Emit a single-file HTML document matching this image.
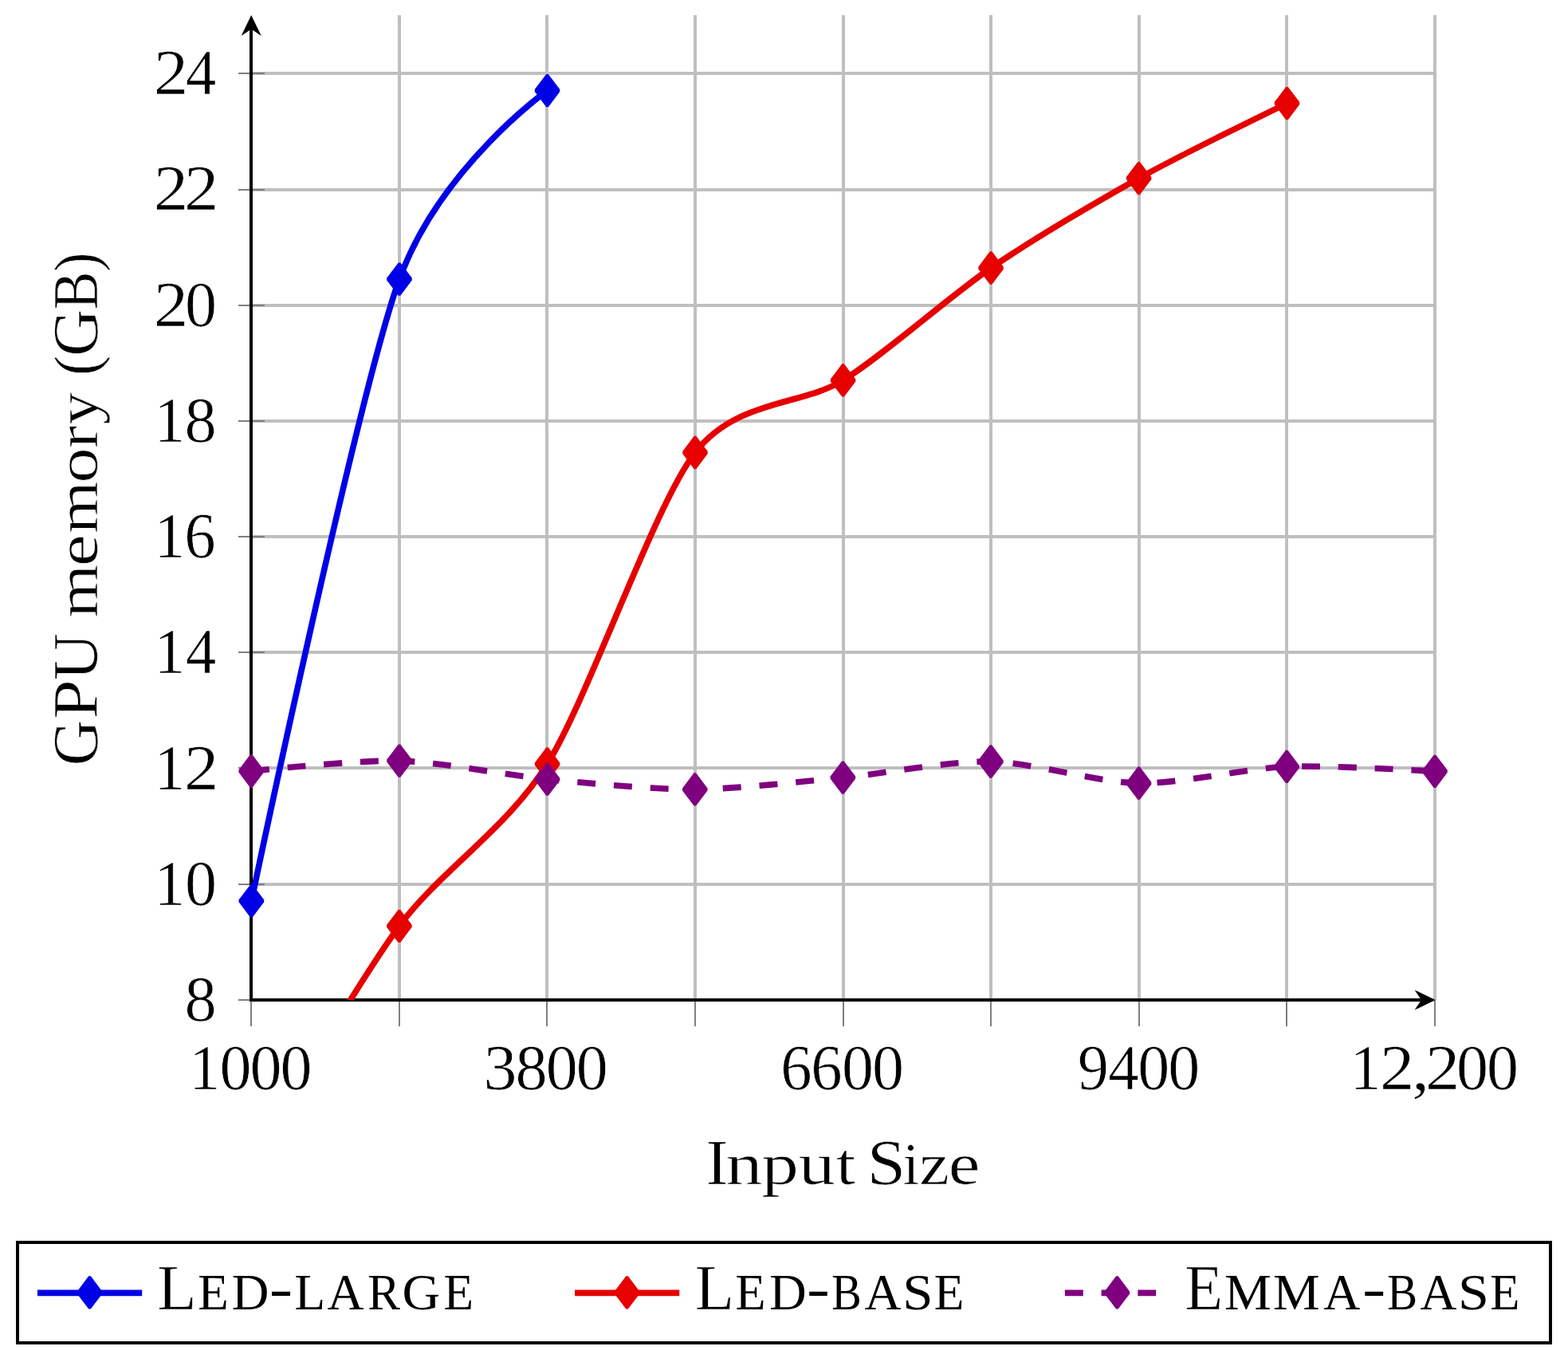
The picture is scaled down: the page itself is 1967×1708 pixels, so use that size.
<!DOCTYPE html>
<html lang="en">
<head>
<meta charset="utf-8">
<title>GPU memory vs. input size</title>
<style>
html,body{margin:0;padding:0;background:#fff;}
body{width:1967px;height:1708px;overflow:hidden;}
svg{display:block;}
text{font-family:"Liberation Serif", "DejaVu Serif", serif;fill:#000;stroke:#fff;stroke-width:0.7px;}
</style>
</head>
<body>
<svg width="1967" height="1708" viewBox="0 0 1967 1708">
<title>GPU memory (GB) as a function of Input Size</title>
<desc>Line chart. x axis: Input Size (1000, 3800, 6600, 9400, 12,200). y axis: GPU memory (GB) (8 to 24). Series: LED-LARGE, LED-BASE, EMMA-BASE.</desc>
<rect width="1967" height="1708" fill="#fff"/>
<g stroke="#bfbfbf" stroke-width="4" fill="none" shape-rendering="crispEdges">
<line x1="501.00" y1="19.00" x2="501.00" y2="1254.00"/>
<line x1="686.00" y1="19.00" x2="686.00" y2="1254.00"/>
<line x1="872.00" y1="19.00" x2="872.00" y2="1254.00"/>
<line x1="1058.00" y1="19.00" x2="1058.00" y2="1254.00"/>
<line x1="1243.00" y1="19.00" x2="1243.00" y2="1254.00"/>
<line x1="1429.00" y1="19.00" x2="1429.00" y2="1254.00"/>
<line x1="1614.00" y1="19.00" x2="1614.00" y2="1254.00"/>
<line x1="1800.00" y1="19.00" x2="1800.00" y2="1254.00"/>
<line x1="315.00" y1="1254.00" x2="1800.00" y2="1254.00"/>
<line x1="315.00" y1="1109.00" x2="1800.00" y2="1109.00"/>
<line x1="315.00" y1="963.00" x2="1800.00" y2="963.00"/>
<line x1="315.00" y1="818.00" x2="1800.00" y2="818.00"/>
<line x1="315.00" y1="673.00" x2="1800.00" y2="673.00"/>
<line x1="315.00" y1="528.00" x2="1800.00" y2="528.00"/>
<line x1="315.00" y1="383.00" x2="1800.00" y2="383.00"/>
<line x1="315.00" y1="238.00" x2="1800.00" y2="238.00"/>
<line x1="315.00" y1="92.00" x2="1800.00" y2="92.00"/>
</g>
<g stroke="#7f7f7f" stroke-width="2" fill="none" shape-rendering="crispEdges">
<line x1="315.00" y1="1254.00" x2="315.00" y2="1287.00"/>
<line x1="501.00" y1="1254.00" x2="501.00" y2="1287.00"/>
<line x1="686.00" y1="1254.00" x2="686.00" y2="1287.00"/>
<line x1="872.00" y1="1254.00" x2="872.00" y2="1287.00"/>
<line x1="1058.00" y1="1254.00" x2="1058.00" y2="1287.00"/>
<line x1="1243.00" y1="1254.00" x2="1243.00" y2="1287.00"/>
<line x1="1429.00" y1="1254.00" x2="1429.00" y2="1287.00"/>
<line x1="1614.00" y1="1254.00" x2="1614.00" y2="1287.00"/>
<line x1="1800.00" y1="1254.00" x2="1800.00" y2="1287.00"/>
<line x1="299.00" y1="1254.00" x2="332.00" y2="1254.00"/>
<line x1="299.00" y1="1109.00" x2="332.00" y2="1109.00"/>
<line x1="299.00" y1="963.00" x2="332.00" y2="963.00"/>
<line x1="299.00" y1="818.00" x2="332.00" y2="818.00"/>
<line x1="299.00" y1="673.00" x2="332.00" y2="673.00"/>
<line x1="299.00" y1="528.00" x2="332.00" y2="528.00"/>
<line x1="299.00" y1="383.00" x2="332.00" y2="383.00"/>
<line x1="299.00" y1="238.00" x2="332.00" y2="238.00"/>
<line x1="299.00" y1="92.00" x2="332.00" y2="92.00"/>
</g>
<g stroke="#000" stroke-width="4" fill="none" shape-rendering="crispEdges">
<line x1="315.00" y1="1256.00" x2="315.00" y2="33.00"/>
<line x1="313.00" y1="1254.00" x2="1786.00" y2="1254.00"/>
</g>
<polygon fill="#000" points="315.20,18.90 327.80,44.90 315.20,36.50 302.60,44.90"/>
<polygon fill="#000" points="1800.60,1254.00 1774.60,1241.40 1783.00,1254.00 1774.60,1266.60"/>
<defs><clipPath id="plotclip"><rect x="315.00" y="19.00" width="1485.00" height="1235.00"/></clipPath></defs>
<g clip-path="url(#plotclip)" fill="none" stroke-width="7.60" stroke-linejoin="round">
<path stroke="#0000e6" d="M315.40 1129.85 C315.40 1129.85 449.50 491.11 501.00 350.10 C552.50 209.09 686.55 113.55 686.55 113.55"/>
</g>
<polygon fill="#0000e6" points="314.10,1109.20 316.70,1109.20 331.15,1128.35 331.15,1131.35 316.70,1150.50 314.10,1150.50 299.65,1131.35 299.65,1128.35"/>
<polygon fill="#0000e6" points="499.70,329.45 502.30,329.45 516.75,348.60 516.75,351.60 502.30,370.75 499.70,370.75 485.25,351.60 485.25,348.60"/>
<polygon fill="#0000e6" points="685.25,92.90 687.85,92.90 702.30,112.05 702.30,115.05 687.85,134.20 685.25,134.20 670.80,115.05 670.80,112.05"/>
<g clip-path="url(#plotclip)" fill="none" stroke-width="7.60" stroke-linejoin="round">
<path stroke="#e60000" d="M315.20 1460.00 C315.20 1460.00 449.37 1230.95 500.90 1161.30 C552.43 1091.65 635.11 1040.39 686.60 958.00 C738.09 875.61 820.52 634.25 872.00 567.50 C923.48 500.75 1006.11 509.02 1057.60 476.90 C1109.09 444.78 1191.62 371.15 1243.10 336.00 C1294.58 300.85 1377.07 252.24 1428.60 223.60 C1480.13 194.96 1614.50 129.55 1614.50 129.55"/>
</g>
<polygon fill="#e60000" points="499.60,1140.65 502.20,1140.65 516.65,1159.80 516.65,1162.80 502.20,1181.95 499.60,1181.95 485.15,1162.80 485.15,1159.80"/>
<polygon fill="#e60000" points="685.30,937.35 687.90,937.35 702.35,956.50 702.35,959.50 687.90,978.65 685.30,978.65 670.85,959.50 670.85,956.50"/>
<polygon fill="#e60000" points="870.70,546.85 873.30,546.85 887.75,566.00 887.75,569.00 873.30,588.15 870.70,588.15 856.25,569.00 856.25,566.00"/>
<polygon fill="#e60000" points="1056.30,456.25 1058.90,456.25 1073.35,475.40 1073.35,478.40 1058.90,497.55 1056.30,497.55 1041.85,478.40 1041.85,475.40"/>
<polygon fill="#e60000" points="1241.80,315.35 1244.40,315.35 1258.85,334.50 1258.85,337.50 1244.40,356.65 1241.80,356.65 1227.35,337.50 1227.35,334.50"/>
<polygon fill="#e60000" points="1427.30,202.95 1429.90,202.95 1444.35,222.10 1444.35,225.10 1429.90,244.25 1427.30,244.25 1412.85,225.10 1412.85,222.10"/>
<polygon fill="#e60000" points="1613.20,108.90 1615.80,108.90 1630.25,128.05 1630.25,131.05 1615.80,150.20 1613.20,150.20 1598.75,131.05 1598.75,128.05"/>
<g clip-path="url(#plotclip)" fill="none" stroke-width="7.60" stroke-linejoin="round">
<path stroke="#7f007f" stroke-dasharray="22.86 22.86" d="M315.20 967.00 C315.20 967.00 449.47 952.68 501.00 954.10 C552.53 955.52 635.15 972.23 686.60 977.20 C738.05 982.17 820.35 990.19 871.80 989.90 C923.25 989.61 1005.91 979.94 1057.40 975.10 C1108.89 970.26 1191.40 954.01 1242.90 955.00 C1294.40 955.99 1377.08 981.31 1428.60 982.20 C1480.12 983.09 1562.67 963.47 1614.20 961.40 C1665.73 959.33 1800.00 967.30 1800.00 967.30"/>
</g>
<polygon fill="#7f007f" points="313.90,946.35 316.50,946.35 330.95,965.50 330.95,968.50 316.50,987.65 313.90,987.65 299.45,968.50 299.45,965.50"/>
<polygon fill="#7f007f" points="499.70,933.45 502.30,933.45 516.75,952.60 516.75,955.60 502.30,974.75 499.70,974.75 485.25,955.60 485.25,952.60"/>
<polygon fill="#7f007f" points="685.30,956.55 687.90,956.55 702.35,975.70 702.35,978.70 687.90,997.85 685.30,997.85 670.85,978.70 670.85,975.70"/>
<polygon fill="#7f007f" points="870.50,969.25 873.10,969.25 887.55,988.40 887.55,991.40 873.10,1010.55 870.50,1010.55 856.05,991.40 856.05,988.40"/>
<polygon fill="#7f007f" points="1056.10,954.45 1058.70,954.45 1073.15,973.60 1073.15,976.60 1058.70,995.75 1056.10,995.75 1041.65,976.60 1041.65,973.60"/>
<polygon fill="#7f007f" points="1241.60,934.35 1244.20,934.35 1258.65,953.50 1258.65,956.50 1244.20,975.65 1241.60,975.65 1227.15,956.50 1227.15,953.50"/>
<polygon fill="#7f007f" points="1427.30,961.55 1429.90,961.55 1444.35,980.70 1444.35,983.70 1429.90,1002.85 1427.30,1002.85 1412.85,983.70 1412.85,980.70"/>
<polygon fill="#7f007f" points="1612.90,940.75 1615.50,940.75 1629.95,959.90 1629.95,962.90 1615.50,982.05 1612.90,982.05 1598.45,962.90 1598.45,959.90"/>
<polygon fill="#7f007f" points="1798.70,946.65 1801.30,946.65 1815.75,965.80 1815.75,968.80 1801.30,987.95 1798.70,987.95 1784.25,968.80 1784.25,965.80"/>
<text aria-label="8"><tspan x="231.55" y="1280.20" font-size="81.11" textLength="40.17" lengthAdjust="spacingAndGlyphs">8</tspan></text>
<text aria-label="10"><tspan x="193.60" y="1134.95" font-size="81.11" textLength="38.77" lengthAdjust="spacingAndGlyphs">1</tspan><tspan x="231.91" y="1134.95" font-size="81.11" textLength="39.99" lengthAdjust="spacingAndGlyphs">0</tspan></text>
<text aria-label="12"><tspan x="193.60" y="989.70" font-size="81.11" textLength="38.77" lengthAdjust="spacingAndGlyphs">1</tspan><tspan x="230.90" y="989.70" font-size="81.11" textLength="43.40" lengthAdjust="spacingAndGlyphs">2</tspan></text>
<text aria-label="14"><tspan x="193.60" y="844.45" font-size="81.11" textLength="38.77" lengthAdjust="spacingAndGlyphs">1</tspan><tspan x="232.86" y="844.45" font-size="81.11" textLength="38.51" lengthAdjust="spacingAndGlyphs">4</tspan></text>
<text aria-label="16"><tspan x="193.60" y="699.20" font-size="81.11" textLength="38.77" lengthAdjust="spacingAndGlyphs">1</tspan><tspan x="231.23" y="699.20" font-size="81.11" textLength="39.32" lengthAdjust="spacingAndGlyphs">6</tspan></text>
<text aria-label="18"><tspan x="193.60" y="553.95" font-size="81.11" textLength="38.77" lengthAdjust="spacingAndGlyphs">1</tspan><tspan x="231.55" y="553.95" font-size="81.11" textLength="40.17" lengthAdjust="spacingAndGlyphs">8</tspan></text>
<text aria-label="20"><tspan x="192.86" y="408.70" font-size="81.11" textLength="43.40" lengthAdjust="spacingAndGlyphs">2</tspan><tspan x="231.91" y="408.70" font-size="81.11" textLength="39.99" lengthAdjust="spacingAndGlyphs">0</tspan></text>
<text aria-label="22"><tspan x="192.86" y="263.45" font-size="81.11" textLength="43.40" lengthAdjust="spacingAndGlyphs">2</tspan><tspan x="230.90" y="263.45" font-size="81.11" textLength="43.40" lengthAdjust="spacingAndGlyphs">2</tspan></text>
<text aria-label="24"><tspan x="192.86" y="118.20" font-size="81.11" textLength="43.40" lengthAdjust="spacingAndGlyphs">2</tspan><tspan x="232.86" y="118.20" font-size="81.11" textLength="38.51" lengthAdjust="spacingAndGlyphs">4</tspan></text>
<text aria-label="1000"><tspan x="237.20" y="1365.90" font-size="81.11" textLength="38.77" lengthAdjust="spacingAndGlyphs">1</tspan><tspan x="275.51" y="1365.90" font-size="81.11" textLength="39.99" lengthAdjust="spacingAndGlyphs">0</tspan><tspan x="313.55" y="1365.90" font-size="81.11" textLength="39.99" lengthAdjust="spacingAndGlyphs">0</tspan><tspan x="351.59" y="1365.90" font-size="81.11" textLength="39.99" lengthAdjust="spacingAndGlyphs">0</tspan></text>
<text aria-label="3800"><tspan x="606.64" y="1365.90" font-size="81.11" textLength="42.00" lengthAdjust="spacingAndGlyphs">3</tspan><tspan x="646.39" y="1365.90" font-size="81.11" textLength="40.17" lengthAdjust="spacingAndGlyphs">8</tspan><tspan x="684.79" y="1365.90" font-size="81.11" textLength="39.99" lengthAdjust="spacingAndGlyphs">0</tspan><tspan x="722.83" y="1365.90" font-size="81.11" textLength="39.99" lengthAdjust="spacingAndGlyphs">0</tspan></text>
<text aria-label="6600"><tspan x="979.27" y="1365.90" font-size="81.11" textLength="39.32" lengthAdjust="spacingAndGlyphs">6</tspan><tspan x="1017.31" y="1365.90" font-size="81.11" textLength="39.32" lengthAdjust="spacingAndGlyphs">6</tspan><tspan x="1056.03" y="1365.90" font-size="81.11" textLength="39.99" lengthAdjust="spacingAndGlyphs">0</tspan><tspan x="1094.07" y="1365.90" font-size="81.11" textLength="39.99" lengthAdjust="spacingAndGlyphs">0</tspan></text>
<text aria-label="9400"><tspan x="1351.94" y="1365.90" font-size="81.11" textLength="38.78" lengthAdjust="spacingAndGlyphs">9</tspan><tspan x="1390.18" y="1365.90" font-size="81.11" textLength="38.51" lengthAdjust="spacingAndGlyphs">4</tspan><tspan x="1427.27" y="1365.90" font-size="81.11" textLength="39.99" lengthAdjust="spacingAndGlyphs">0</tspan><tspan x="1465.31" y="1365.90" font-size="81.11" textLength="39.99" lengthAdjust="spacingAndGlyphs">0</tspan></text>
<text aria-label="12,200"><tspan x="1693.63" y="1365.90" font-size="81.11" textLength="38.77" lengthAdjust="spacingAndGlyphs">1</tspan><tspan x="1730.93" y="1365.90" font-size="81.11" textLength="43.40" lengthAdjust="spacingAndGlyphs">2</tspan><tspan x="1771.05" y="1365.90" font-size="81.11" textLength="22.16" lengthAdjust="spacingAndGlyphs">,</tspan><tspan x="1787.99" y="1365.90" font-size="81.11" textLength="43.40" lengthAdjust="spacingAndGlyphs">2</tspan><tspan x="1827.04" y="1365.90" font-size="81.11" textLength="39.99" lengthAdjust="spacingAndGlyphs">0</tspan><tspan x="1865.08" y="1365.90" font-size="81.11" textLength="39.99" lengthAdjust="spacingAndGlyphs">0</tspan></text>
<text aria-label="Input Size"><tspan x="885.77" y="1484.50" font-size="80.71" textLength="27.51" lengthAdjust="spacingAndGlyphs">I</tspan><tspan x="910.64" y="1484.50" font-size="74.31" textLength="46.06" lengthAdjust="spacingAndGlyphs">n</tspan><tspan x="955.19" y="1484.50" font-size="74.31" textLength="46.76" lengthAdjust="spacingAndGlyphs">p</tspan><tspan x="1001.89" y="1484.50" font-size="74.31" textLength="45.98" lengthAdjust="spacingAndGlyphs">u</tspan><tspan x="1048.84" y="1484.50" font-size="74.31" textLength="24.48" lengthAdjust="spacingAndGlyphs">t</tspan><tspan> </tspan><tspan x="1087.78" y="1484.50" font-size="80.71" textLength="48.42" lengthAdjust="spacingAndGlyphs">S</tspan><tspan x="1132.62" y="1484.50" font-size="74.31" textLength="20.91" lengthAdjust="spacingAndGlyphs">i</tspan><tspan x="1153.32" y="1484.50" font-size="74.31" textLength="37.75" lengthAdjust="spacingAndGlyphs">z</tspan><tspan x="1189.71" y="1484.50" font-size="74.31" textLength="39.69" lengthAdjust="spacingAndGlyphs">e</tspan></text>
<text aria-label="GPU memory (GB)" transform="translate(121.7 958.40) rotate(-90)"><tspan x="-1.84" y="0.00" font-size="80.71" textLength="57.12" lengthAdjust="spacingAndGlyphs">G</tspan><tspan x="56.63" y="0.00" font-size="80.71" textLength="49.53" lengthAdjust="spacingAndGlyphs">P</tspan><tspan x="105.29" y="0.00" font-size="80.71" textLength="58.82" lengthAdjust="spacingAndGlyphs">U</tspan><tspan> </tspan><tspan x="183.59" y="0.00" font-size="74.31" textLength="67.06" lengthAdjust="spacingAndGlyphs">m</tspan><tspan x="248.17" y="0.00" font-size="74.31" textLength="40.05" lengthAdjust="spacingAndGlyphs">e</tspan><tspan x="289.53" y="0.00" font-size="74.31" textLength="65.48" lengthAdjust="spacingAndGlyphs">m</tspan><tspan x="352.72" y="0.00" font-size="74.31" textLength="44.36" lengthAdjust="spacingAndGlyphs">o</tspan><tspan x="396.10" y="0.00" font-size="74.31" textLength="28.35" lengthAdjust="spacingAndGlyphs">r</tspan><tspan x="426.00" y="0.00" font-size="74.31" textLength="40.82" lengthAdjust="spacingAndGlyphs">y</tspan><tspan> </tspan><tspan x="487.46" y="0.00" font-size="78.91" textLength="25.28" lengthAdjust="spacingAndGlyphs">(</tspan><tspan x="511.34" y="0.00" font-size="80.71" textLength="59.23" lengthAdjust="spacingAndGlyphs">G</tspan><tspan x="570.23" y="0.00" font-size="80.71" textLength="47.87" lengthAdjust="spacingAndGlyphs">B</tspan><tspan x="617.75" y="0.00" font-size="78.91" textLength="24.25" lengthAdjust="spacingAndGlyphs">)</tspan></text>
<rect x="22" y="1558" width="1923" height="126" fill="#fff" stroke="#000" stroke-width="4" shape-rendering="crispEdges"/>
<line x1="47.00" y1="1621.40" x2="178.20" y2="1621.40" stroke="#0000e6" stroke-width="7.60"/>
<polygon fill="#0000e6" points="111.20,1600.25 113.80,1600.25 128.25,1619.40 128.25,1622.40 113.80,1641.55 111.20,1641.55 96.75,1622.40 96.75,1619.40"/>
<line x1="721.10" y1="1621.40" x2="852.30" y2="1621.40" stroke="#e60000" stroke-width="7.60"/>
<polygon fill="#e60000" points="785.30,1600.25 787.90,1600.25 802.35,1619.40 802.35,1622.40 787.90,1641.55 785.30,1641.55 770.85,1622.40 770.85,1619.40"/>
<line x1="1335.90" y1="1621.40" x2="1467.10" y2="1621.40" stroke="#7f007f" stroke-width="7.60" stroke-dasharray="22.86 22.86"/>
<polygon fill="#7f007f" points="1400.10,1600.25 1402.70,1600.25 1417.15,1619.40 1417.15,1622.40 1402.70,1641.55 1400.10,1641.55 1385.65,1622.40 1385.65,1619.40"/>
<text aria-label="LED-LARGE"><tspan x="197.37" y="1642.00" font-size="80.91" textLength="49.38" lengthAdjust="spacingAndGlyphs">L</tspan><tspan x="248.19" y="1642.00" font-size="64.00" textLength="38.45" lengthAdjust="spacingAndGlyphs" stroke="none">E</tspan><tspan x="290.84" y="1642.00" font-size="64.00" textLength="46.65" lengthAdjust="spacingAndGlyphs" stroke="none">D</tspan><tspan x="337.81" y="1638.80" font-size="69.30" textLength="29.48" lengthAdjust="spacingAndGlyphs" stroke="none">-</tspan><tspan x="369.48" y="1642.00" font-size="64.00" textLength="38.62" lengthAdjust="spacingAndGlyphs" stroke="none">L</tspan><tspan x="410.38" y="1642.00" font-size="64.00" textLength="46.09" lengthAdjust="spacingAndGlyphs" stroke="none">A</tspan><tspan x="461.24" y="1642.00" font-size="64.00" textLength="40.64" lengthAdjust="spacingAndGlyphs" stroke="none">R</tspan><tspan x="504.50" y="1642.00" font-size="64.00" textLength="47.56" lengthAdjust="spacingAndGlyphs" stroke="none">G</tspan><tspan x="556.53" y="1642.00" font-size="64.00" textLength="37.53" lengthAdjust="spacingAndGlyphs" stroke="none">E</tspan></text>
<text aria-label="LED-BASE"><tspan x="871.67" y="1642.00" font-size="80.91" textLength="49.38" lengthAdjust="spacingAndGlyphs">L</tspan><tspan x="922.46" y="1642.00" font-size="64.00" textLength="37.93" lengthAdjust="spacingAndGlyphs" stroke="none">E</tspan><tspan x="965.15" y="1642.00" font-size="64.00" textLength="46.43" lengthAdjust="spacingAndGlyphs" stroke="none">D</tspan><tspan x="1011.97" y="1638.80" font-size="69.30" textLength="28.97" lengthAdjust="spacingAndGlyphs" stroke="none">-</tspan><tspan x="1043.28" y="1642.00" font-size="64.00" textLength="37.57" lengthAdjust="spacingAndGlyphs" stroke="none">B</tspan><tspan x="1084.48" y="1642.00" font-size="64.00" textLength="46.09" lengthAdjust="spacingAndGlyphs" stroke="none">A</tspan><tspan x="1132.20" y="1642.00" font-size="64.00" textLength="38.27" lengthAdjust="spacingAndGlyphs" stroke="none">S</tspan><tspan x="1171.78" y="1642.00" font-size="64.00" textLength="37.59" lengthAdjust="spacingAndGlyphs" stroke="none">E</tspan></text>
<text aria-label="EMMA-BASE"><tspan x="1486.34" y="1642.00" font-size="80.91" textLength="47.86" lengthAdjust="spacingAndGlyphs">E</tspan><tspan x="1535.99" y="1642.00" font-size="64.00" textLength="58.85" lengthAdjust="spacingAndGlyphs" stroke="none">M</tspan><tspan x="1596.90" y="1642.00" font-size="64.00" textLength="58.68" lengthAdjust="spacingAndGlyphs" stroke="none">M</tspan><tspan x="1660.28" y="1642.00" font-size="64.00" textLength="46.19" lengthAdjust="spacingAndGlyphs" stroke="none">A</tspan><tspan x="1708.93" y="1638.80" font-size="69.30" textLength="29.36" lengthAdjust="spacingAndGlyphs" stroke="none">-</tspan><tspan x="1740.37" y="1642.00" font-size="64.00" textLength="37.80" lengthAdjust="spacingAndGlyphs" stroke="none">B</tspan><tspan x="1781.48" y="1642.00" font-size="64.00" textLength="45.89" lengthAdjust="spacingAndGlyphs" stroke="none">A</tspan><tspan x="1828.92" y="1642.00" font-size="64.00" textLength="38.92" lengthAdjust="spacingAndGlyphs" stroke="none">S</tspan><tspan x="1869.25" y="1642.00" font-size="64.00" textLength="37.19" lengthAdjust="spacingAndGlyphs" stroke="none">E</tspan></text>
</svg>
</body>
</html>
